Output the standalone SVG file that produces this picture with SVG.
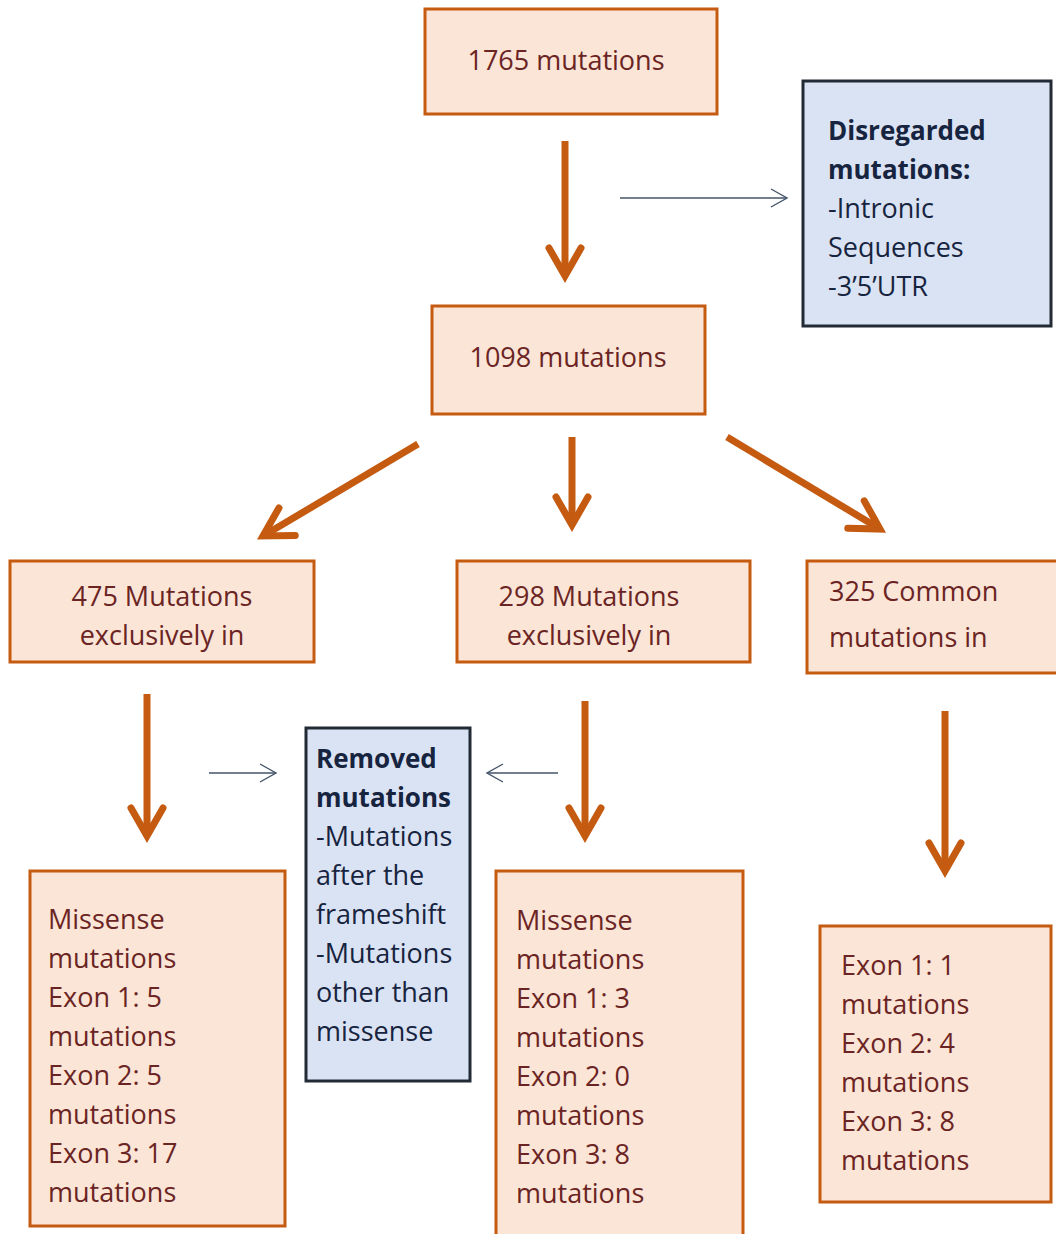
<svg xmlns="http://www.w3.org/2000/svg" width="1056" height="1234" viewBox="0 0 1056 1234">
<defs>
<style>
.ob{fill:#FBE5D6;stroke:#C55A11;stroke-width:3}
.bb{fill:#DAE3F3;stroke:#222A35;stroke-width:3}
.ot{font-family:"Open Sans","Noto Sans",sans-serif;font-size:27px;fill:#6B2424}
.bt{font-family:"Open Sans","Noto Sans",sans-serif;font-size:27px;fill:#172440}
.b{font-weight:bold;font-size:26px}
.thick{stroke:#C55A11;stroke-width:7;fill:none}
.thin{stroke:#44546A;stroke-width:1.4;fill:none}
</style>
<marker id="big" markerUnits="userSpaceOnUse" viewBox="-40 -25 50 50" markerWidth="50" markerHeight="50" refX="0" refY="0" orient="auto">
<path d="M-28,-16 L0,0 L-28,16" fill="none" stroke="#C55A11" stroke-width="7" stroke-linecap="round" stroke-linejoin="miter"/>
</marker>
<marker id="small" markerUnits="userSpaceOnUse" viewBox="-20 -12 24 24" markerWidth="24" markerHeight="24" refX="0" refY="0" orient="auto">
<path d="M-16,-9 L0,0 L-16,9" fill="none" stroke="#44546A" stroke-width="1.4"/>
</marker>
</defs>
<rect width="1056" height="1234" fill="#FFFFFF"/>

<g id="connectors">
<line class="thick" x1="565" y1="141" x2="565" y2="276" marker-end="url(#big)"/>
<line class="thin" x1="620" y1="198" x2="787" y2="198" marker-end="url(#small)"/>
<line class="thick" x1="418" y1="444" x2="263" y2="536" marker-end="url(#big)"/>
<line class="thick" x1="572" y1="437" x2="572" y2="525" marker-end="url(#big)"/>
<line class="thick" x1="727" y1="437" x2="880" y2="529" marker-end="url(#big)"/>
<line class="thick" x1="147" y1="694" x2="147" y2="836" marker-end="url(#big)"/>
<line class="thick" x1="585" y1="701" x2="585" y2="836" marker-end="url(#big)"/>
<line class="thick" x1="945" y1="711" x2="945" y2="871" marker-end="url(#big)"/>
<line class="thin" x1="209" y1="773" x2="276" y2="773" marker-end="url(#small)"/>
<line class="thin" x1="558" y1="773" x2="487" y2="773" marker-end="url(#small)"/>
</g>

<g id="n1765">
<rect class="ob" x="425" y="9" width="292" height="105"/>
<text class="ot" x="566" y="70" text-anchor="middle">1765 mutations</text>
</g>

<g id="disregarded">
<rect class="bb" x="803" y="81" width="248" height="245"/>
<text class="bt" x="828" y="140"><tspan class="b">Disregarded</tspan><tspan class="b" x="828" dy="39">mutations:</tspan><tspan x="828" dy="39">-Intronic</tspan><tspan x="828" dy="39">Sequences</tspan><tspan x="828" dy="39">-3’5’UTR</tspan></text>
</g>

<g id="n1098">
<rect class="ob" x="432" y="306" width="273" height="108"/>
<text class="ot" x="568" y="367" text-anchor="middle">1098 mutations</text>
</g>

<g id="n475">
<rect class="ob" x="10" y="561" width="304" height="101"/>
<text class="ot" x="162" y="606" text-anchor="middle">475 Mutations<tspan x="162" dy="39">exclusively in</tspan></text>
</g>

<g id="n298">
<rect class="ob" x="457" y="561" width="293" height="101"/>
<text class="ot" x="589" y="606" text-anchor="middle">298 Mutations<tspan x="589" dy="39">exclusively in</tspan></text>
</g>

<g id="n325">
<rect class="ob" x="807" y="561" width="252" height="112"/>
<text class="ot" x="829" y="601">325 Common<tspan x="829" dy="46">mutations in</tspan></text>
</g>

<g id="removed">
<rect class="bb" x="306" y="728" width="164" height="353"/>
<text class="bt" x="316" y="768"><tspan class="b">Removed</tspan><tspan class="b" x="316" dy="39">mutations</tspan><tspan x="316" dy="39">-Mutations</tspan><tspan x="316" dy="39">after the</tspan><tspan x="316" dy="39">frameshift</tspan><tspan x="316" dy="39">-Mutations</tspan><tspan x="316" dy="39">other than</tspan><tspan x="316" dy="39">missense</tspan></text>
</g>

<g id="leftResult">
<rect class="ob" x="30" y="871" width="255" height="355"/>
<text class="ot" x="48" y="929">Missense<tspan x="48" dy="39">mutations</tspan><tspan x="48" dy="39">Exon 1: 5</tspan><tspan x="48" dy="39">mutations</tspan><tspan x="48" dy="39">Exon 2: 5</tspan><tspan x="48" dy="39">mutations</tspan><tspan x="48" dy="39">Exon 3: 17</tspan><tspan x="48" dy="39">mutations</tspan></text>
</g>

<g id="midResult">
<rect class="ob" x="496" y="871" width="247" height="370"/>
<text class="ot" x="516" y="930">Missense<tspan x="516" dy="39">mutations</tspan><tspan x="516" dy="39">Exon 1: 3</tspan><tspan x="516" dy="39">mutations</tspan><tspan x="516" dy="39">Exon 2: 0</tspan><tspan x="516" dy="39">mutations</tspan><tspan x="516" dy="39">Exon 3: 8</tspan><tspan x="516" dy="39">mutations</tspan></text>
</g>

<g id="rightResult">
<rect class="ob" x="820" y="926" width="231" height="276"/>
<text class="ot" x="841" y="975">Exon 1: 1<tspan x="841" dy="39">mutations</tspan><tspan x="841" dy="39">Exon 2: 4</tspan><tspan x="841" dy="39">mutations</tspan><tspan x="841" dy="39">Exon 3: 8</tspan><tspan x="841" dy="39">mutations</tspan></text>
</g>
</svg>
